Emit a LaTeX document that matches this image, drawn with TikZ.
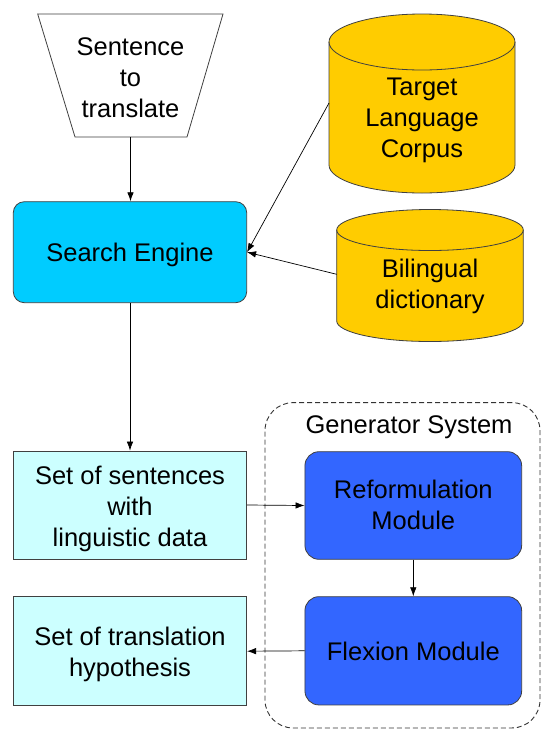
\documentclass[tikz,border=0pt]{standalone}
\usepackage{fontspec}
\setmainfont{Liberation Sans}
\usetikzlibrary{arrows.meta}
\definecolor{enginecol}{HTML}{00CCFF}
\definecolor{palecol}{HTML}{CCFFFF}
\definecolor{goldcol}{HTML}{FFCC00}
\definecolor{modcol}{HTML}{3366FF}
\definecolor{edgecol}{HTML}{404040}
\newcommand{\boxtext}[2][3pt]{\raisebox{-#1}[\height][\depth]{\begin{tabular}{@{}c@{}}#2\end{tabular}}}
\begin{document}
\begin{tikzpicture}[x=1pt,y=-1pt,
  font=\fontsize{25.5}{31}\selectfont,
  box/.style={draw=edgecol, line width=0.8pt, align=center, inner sep=0pt},
  txt/.style={align=center, inner sep=0pt},
  arr/.style={-{Latex[length=9pt,width=6.5pt]}, line width=0.7pt, draw=black},
  cyl/.style={draw=edgecol, line width=0.8pt, fill=goldcol}]
\useasboundingbox[fill=white] (0,0) rectangle (543,729);

% source trapezoid
\draw[draw=edgecol, line width=0.8pt, fill=white] (37.7,14) -- (223,14) -- (187,137) -- (75,137) -- cycle;
\node[txt, minimum height=123pt] (src) at (130.5,75.5) {\boxtext[5pt]{Sentence\\to\\translate}};

% search engine
\node[box, fill=enginecol, rounded corners=11pt, minimum width=233.4pt, minimum height=101pt] (engine) at (130,252.2) {\boxtext{Search Engine}};

% target language corpus cylinder
\draw[cyl] (329,42) -- (329,165) arc[start angle=180, end angle=0, x radius=93, y radius=28]
  -- (515,42) arc[start angle=0, end angle=-180, x radius=93, y radius=28] -- cycle;
\draw[draw=edgecol, line width=0.8pt] (329,42) arc[start angle=180, end angle=0, x radius=93, y radius=28];
\node[txt] (corpus) at (422,117) {\boxtext{Target\\Language\\Corpus}};
\coordinate (corpusW) at (329,103);

% bilingual dictionary cylinder
\draw[cyl] (336.7,230) -- (336.7,321) arc[start angle=180, end angle=0, x radius=93.3, y radius=20.5]
  -- (523.3,230) arc[start angle=0, end angle=-180, x radius=93.3, y radius=20.5] -- cycle;
\draw[draw=edgecol, line width=0.8pt] (336.7,230) arc[start angle=180, end angle=0, x radius=93.3, y radius=20.5];
\node[txt] (dict) at (430,284.5) {\boxtext[2pt]{Bilingual\\dictionary}};
\coordinate (dictW) at (336.7,274.3);

% lower boxes
\node[box, fill=palecol, minimum width=233.4pt, minimum height=108pt] (sents) at (130,505) {\boxtext[4pt]{Set of sentences\\with\\linguistic data}};
\node[box, fill=palecol, minimum width=233.4pt, minimum height=109pt] (hyp) at (130,651.2) {\boxtext[4pt]{Set of translation\\hypothesis}};

% generator system
\node[draw=black!80, line width=0.9pt, dash pattern=on 5pt off 3pt, rounded corners=28pt, minimum width=275pt, minimum height=325.3pt, inner sep=0pt] (gen) at (402.5,565.3) {};
\node[txt] (gentitle) at (409,424) {\boxtext{Generator System}};
\node[box, fill=modcol, rounded corners=14pt, minimum width=216.7pt, minimum height=107.6pt] (reform) at (413.3,505.5) {\boxtext[2.5pt]{Reformulation\\Module}};
\node[box, fill=modcol, rounded corners=14pt, minimum width=216.7pt, minimum height=108.3pt] (flex) at (413.3,650.8) {\boxtext[3.5pt]{Flexion Module}};

% connectors
\draw[arr] (src.south) -- (src.south |- engine.north);
\draw[arr] (corpusW) -- (engine.east);
\draw[arr] (dictW) -- (engine.east);
\draw[arr] (engine.south) -- (sents.north);
\draw[arr] (sents.east) -- (reform.west);
\draw[arr] (reform.south) -- (flex.north);
\draw[arr] (flex.west) -- (hyp.east);
\end{tikzpicture}
\end{document}
